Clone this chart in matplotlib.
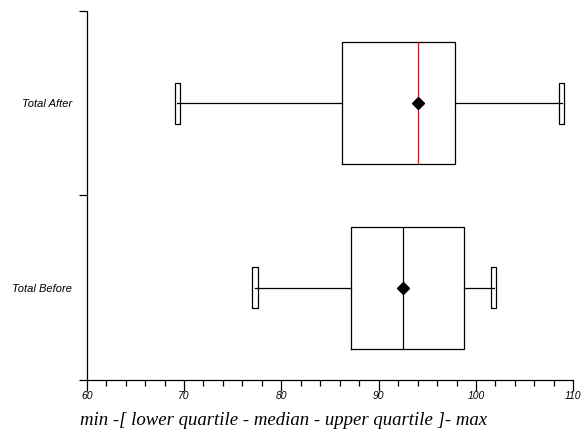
import matplotlib
matplotlib.use('Agg')
import matplotlib.pyplot as plt
from matplotlib.patches import Rectangle
from matplotlib.ticker import MultipleLocator

# data
labels    = ['Total Before', 'Total After']
mins      = [77.3, 69.3]
q1        = [87.2, 86.2]
medians   = [92.5, 94.0]
q3        = [98.8, 97.8]
maxs      = [101.8, 108.8]
means     = [92.5, 94.0]
med_color = ['black', 'red']

fig = plt.figure(figsize=(5.81, 4.34), dpi=100)
ax = fig.add_axes([0.1492, 0.1244, 0.8376, 0.8503])

stats = []
for i in range(len(labels)):
	stats.append(dict(label=labels[i], whislo=mins[i], q1=q1[i], med=medians[i],
		q3=q3[i], whishi=maxs[i], mean=means[i]))

pos = list(range(len(labels)))
res = ax.bxp(stats, positions=pos, vert=False, widths=0.66, showcaps=False,
	showmeans=True, showfliers=False,
	boxprops=dict(color='black', linewidth=0.9),
	whiskerprops=dict(color='black', linewidth=0.9),
	meanprops=dict(marker='D', markerfacecolor='black', markeredgecolor='black', markersize=6))
for m, c in zip(res['medians'], med_color):
	m.set_color(c)
	m.set_linewidth(0.9)

# open rectangles as whisker end caps
for i in range(len(labels)):
	for v in (mins[i], maxs[i]):
		ax.add_patch(Rectangle((v - 0.27, pos[i] - 0.11), 0.54, 0.22,
			fill=False, edgecolor='black', linewidth=0.9, zorder=3))

ax.set_xlim(60, 110)
ax.set_ylim(-0.5, 1.5)
ax.xaxis.set_major_locator(MultipleLocator(10))
ax.xaxis.set_minor_locator(MultipleLocator(2))
ax.tick_params(axis='x', which='major', length=8, width=0.9, labelsize=7.5, pad=0)
ax.tick_params(axis='x', which='minor', length=4, width=0.9)
for t in ax.get_xticklabels():
	t.set_fontstyle('italic')
	t.set_family('Liberation Sans')

ax.set_yticks([-0.5, 0.5, 1.5])
ax.set_yticklabels([])
ax.set_yticks(pos, minor=True)
ax.set_yticklabels(labels, minor=True, fontsize=8, fontstyle='italic', family='Liberation Sans')
ax.tick_params(axis='y', which='major', length=6, width=0.9)
ax.tick_params(axis='y', which='minor', length=0, pad=10.5)

for s in ['top', 'right']:
	ax.spines[s].set_visible(False)
for s in ['left', 'bottom']:
	ax.spines[s].set_linewidth(0.9)

fig.text(0.488, 0.032, 'min -[ lower quartile - median - upper quartile ]- max',
	ha='center', va='center', fontsize=13.5, fontstyle='italic', family='Liberation Serif')

fig.savefig('out.png', dpi=100)
